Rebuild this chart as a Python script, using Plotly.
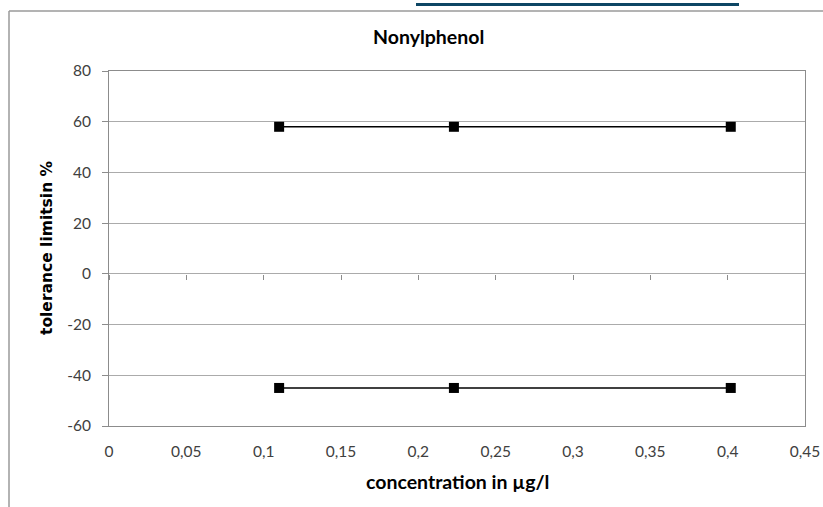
import plotly.graph_objects as go

# data
concentration = [0.11, 0.223, 0.402]
upper_limit = [58, 58, 58]
lower_limit = [-45, -45, -45]
x_tickvals = [0, 0.05, 0.1, 0.15, 0.2, 0.25, 0.3, 0.35, 0.4, 0.45]
x_ticktext = ["0", "0,05", "0,1", "0,15", "0,2", "0,25", "0,3", "0,35", "0,4", "0,45"]
y_tickvals = [-60, -40, -20, 0, 20, 40, 60, 80]
y_ticktext = ["-60", "-40", "-20", "0", "20", "40", "60", "80"]

W, H = 823, 507
L, R, T, B = 109, 18, 71, 81
pw, ph = W - L - R, H - T - B

def px_x(p):
    return (p - L) / pw

def px_y(p):
    return 1 - (p - T) / ph

tick_font = dict(family="Lato, sans-serif", size=15.5, color="#404040")
frame_col = "#8c8c8c"

fig = go.Figure()
for yy in (upper_limit, lower_limit):
    fig.add_trace(go.Scatter(
        x=concentration, y=yy, mode="lines+markers",
        line=dict(color="black", width=1.5),
        marker=dict(symbol="square", size=10, color="black"),
        showlegend=False, hoverinfo="x+y",
    ))

# invisible trace carrying the axis that crosses at y = 0 (tick marks only)
fig.add_trace(go.Scatter(x=[0, 0.45], y=[0, 0], xaxis="x2", mode="none",
                         showlegend=False, hoverinfo="skip"))

fig.update_layout(
    width=W, height=H,
    margin=dict(l=L, r=R, t=T, b=B, autoexpand=False),
    paper_bgcolor="white", plot_bgcolor="white",
    xaxis=dict(range=[0, 0.45], tickvals=x_tickvals, ticktext=x_ticktext,
               showgrid=False, zeroline=False, showline=True, mirror=True,
               linecolor=frame_col, linewidth=1, ticks="", automargin=False,
               ticklabelstandoff=11, tickfont=tick_font, fixedrange=True),
    xaxis2=dict(range=[0, 0.45], overlaying="x", anchor="free",
                position=(0 - (-60)) / 140, tickvals=x_tickvals,
                showticklabels=False, ticks="outside", ticklen=5,
                tickcolor=frame_col, showline=False, showgrid=False,
                zeroline=False, side="bottom", automargin=False),
    yaxis=dict(range=[-60, 80], tickvals=y_tickvals, ticktext=y_ticktext,
               showgrid=True, gridcolor="#ababab", gridwidth=1, zeroline=False,
               showline=True, mirror=True, linecolor=frame_col, linewidth=1,
               ticks="outside", ticklen=6, tickcolor=frame_col, automargin=False,
               ticklabelstandoff=8, tickfont=tick_font, fixedrange=True),
    annotations=[
        dict(text="<b>Nonylphenol</b>", xref="paper", yref="paper",
             x=px_x(428), y=px_y(37), xanchor="center", yanchor="middle",
             showarrow=False,
             font=dict(family="Lato, sans-serif", size=19.5, color="black")),
        dict(text="<b>tolerance limitsin %</b>", xref="paper", yref="paper",
             x=px_x(47), y=px_y(248), xanchor="center", yanchor="middle",
             textangle=-90, showarrow=False,
             font=dict(family="DejaVu Sans, sans-serif", size=15.5, color="black")),
        dict(text="<b>concentration in µg/l</b>", xref="paper", yref="paper",
             x=px_x(458), y=px_y(481), xanchor="center", yanchor="middle",
             showarrow=False,
             font=dict(family="Lato, sans-serif", size=19.5, color="black")),
    ],
    shapes=[
        dict(type="line", xref="paper", yref="paper", x0=px_x(9), x1=px_x(9),
             y0=px_y(11), y1=px_y(520), line=dict(color="#9a9a9a", width=1.5)),
        dict(type="line", xref="paper", yref="paper", x0=px_x(9), x1=px_x(830),
             y0=px_y(11), y1=px_y(11), line=dict(color="#9a9a9a", width=1.5)),
        dict(type="line", xref="paper", yref="paper", x0=px_x(416), x1=px_x(739),
             y0=px_y(4.5), y1=px_y(4.5), line=dict(color="#0d4664", width=3)),
    ],
)

fig.write_html("out.html", config={"displayModeBar": False},
               post_script="document.body.style.margin='0';")
